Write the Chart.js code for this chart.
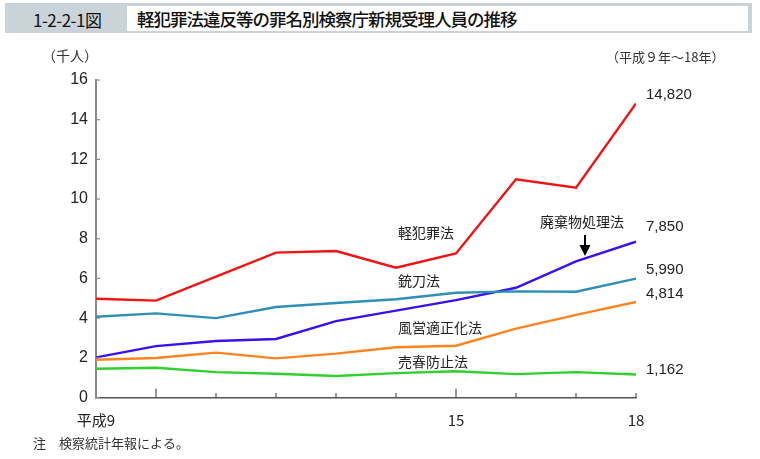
<!DOCTYPE html>
<html>
<head>
<meta charset="utf-8">
<script src="https://cdn.jsdelivr.net/npm/chart.js@4"></script>
<style>
  body { margin: 0; background: #fff; }
  #wrap { position: relative; width: 760px; height: 459px; }
  #hdr { position: absolute; left: 5px; top: 3px; width: 747px; height: 30px; background: #c9d3d8; }
  #hdr .num { position: absolute; left: 28px; top: 4px; font: 17px "Noto Sans CJK JP", sans-serif; color: #111; letter-spacing: -0.5px; }
  #hdr .box { position: absolute; left: 122px; top: 3px; width: 621px; height: 25px; background: #fff; }
  #hdr .ttl { position: absolute; left: 10px; top: 0px; font: 500 17.5px "Noto Sans CJK JP", sans-serif; color: #111; letter-spacing: -1px; }
</style>
</head>
<body>
<div id="wrap">
  <div id="hdr"><span class="num">1-2-2-1図</span><div class="box"><span class="ttl">軽犯罪法違反等の罪名別検察庁新規受理人員の推移</span></div></div>
  <canvas id="c" width="760" height="459"></canvas>
</div>
<script>
// 平成9年～18年, 単位: 千人
const years = [9, 10, 11, 12, 13, 14, 15, 16, 17, 18];
const keihanzai = [4.98, 4.88, 6.09, 7.30, 7.38, 6.54, 7.26, 11.0, 10.57, 14.82];
const juto = [4.07, 4.24, 4.0, 4.56, 4.76, 4.95, 5.28, 5.35, 5.33, 5.99];
const haikibutsu = [2.02, 2.59, 2.85, 2.95, 3.85, 4.38, 4.91, 5.53, 6.86, 7.85];
const fuei = [1.9, 1.99, 2.26, 1.97, 2.21, 2.53, 2.61, 3.47, 4.16, 4.814];
const baishun = [1.45, 1.5, 1.28, 1.2, 1.08, 1.23, 1.32, 1.18, 1.28, 1.162];
const xLabels = { 9: "平成9", 15: "15", 18: "18" };
const yTicks = [0, 2, 4, 6, 8, 10, 12, 14, 16];

const jp = '"Noto Sans CJK JP", sans-serif';
const num = '"Liberation Sans", Arial, sans-serif';

function series(label, data, color) {
    return {
        label: label,
        data: data.map((v, i) => ({ x: years[i], y: v })),
        borderColor: color,
        borderWidth: 2.4,
        pointRadius: 0,
        tension: 0,
        fill: false
    };
}

// 軸の内向き目盛と注記
const extras = {
    id: "extras",
    afterDraw(chart) {
        let ctx = chart.ctx;
        let xs = chart.scales.x, ys = chart.scales.y;
        let x0 = xs.getPixelForValue(9), yb = ys.getPixelForValue(0);
        ctx.save();
        ctx.strokeStyle = "#8a8a8a";
        ctx.lineWidth = 1.2;
        yTicks.forEach(v => {
            let y = ys.getPixelForValue(v);
            ctx.beginPath(); ctx.moveTo(x0, y); ctx.lineTo(x0 + 4, y); ctx.stroke();
        });
        ctx.strokeStyle = "#555";
        years.forEach(v => {
            if (v === 9) return;
            let x = xs.getPixelForValue(v);
            let len = (v === 10 || v === 15) ? 9 : 4.5;
            ctx.beginPath(); ctx.moveTo(x, yb); ctx.lineTo(x, yb - len); ctx.stroke();
        });

        ctx.fillStyle = "#222";
        ctx.textBaseline = "middle";
        ctx.textAlign = "left";
        ctx.font = "14px " + jp;
        ctx.fillText("軽犯罪法", 398, 233);
        ctx.fillText("廃棄物処理法", 540, 222);
        ctx.fillText("銃刀法", 398, 281);
        ctx.fillText("風営適正化法", 398, 328);
        ctx.fillText("売春防止法", 398, 362);

        ctx.font = "15px " + num;
        let xr = xs.getPixelForValue(18) + 10;
        ctx.fillText("14,820", xr, 95);
        ctx.fillText("7,850", xr, 227);
        ctx.fillText("5,990", xr, 270);
        ctx.fillText("4,814", xr, 294);
        ctx.fillText("1,162", xr, 370);

        // 矢印
        ctx.strokeStyle = "#000";
        ctx.lineWidth = 2;
        ctx.beginPath(); ctx.moveTo(585, 235); ctx.lineTo(585, 247); ctx.stroke();
        ctx.fillStyle = "#000";
        ctx.beginPath(); ctx.moveTo(579.5, 245); ctx.lineTo(590.5, 245); ctx.lineTo(585, 256); ctx.closePath(); ctx.fill();

        ctx.fillStyle = "#333";
        ctx.font = "14px " + jp;
        ctx.fillText("（千人）", 42, 56);
        ctx.font = "13px " + jp;
        ctx.fillText("（平成９年～18年）", 606, 57);
        ctx.fillText("注　検察統計年報による。", 33, 443);
        ctx.restore();
    }
};

new Chart(document.getElementById("c"), {
    type: "line",
    data: {
        datasets: [
            series("軽犯罪法", keihanzai, "#f01414"),
            series("銃刀法", juto, "#2f8fb5"),
            series("廃棄物処理法", haikibutsu, "#3a10f0"),
            series("風営適正化法", fuei, "#ff8420"),
            series("売春防止法", baishun, "#30d030")
        ]
    },
    options: {
        responsive: false,
        animation: false,
        events: [],
        layout: { padding: { left: 0, top: 80, right: 124, bottom: 31.5 } },
        plugins: { legend: { display: false }, tooltip: { enabled: false } },
        scales: {
            x: {
                type: "linear",
                min: 9,
                max: 18,
                afterFit: s => { s.height = 30; },
                afterBuildTicks: s => { s.ticks = years.map(v => ({ value: v })); },
                grid: { display: false, drawTicks: false },
                border: { color: "#555", width: 1.5 },
                ticks: {
                    autoSkip: false,
                    maxRotation: 0,
                    padding: 14,
                    color: "#222",
                    font: { size: 15, family: '"Noto Sans CJK JP", sans-serif' },
                    callback: v => xLabels[v] || ""
                }
            },
            y: {
                min: 0,
                max: 16,
                afterFit: s => { s.width = 96; },
                afterBuildTicks: s => { s.ticks = yTicks.map(v => ({ value: v })); },
                grid: { display: false, drawTicks: false },
                border: { color: "#8a8a8a", width: 2 },
                ticks: {
                    padding: 8,
                    color: "#222",
                    font: { size: 16, family: num }
                }
            }
        }
    },
    plugins: [extras]
});
</script>
</body>
</html>
